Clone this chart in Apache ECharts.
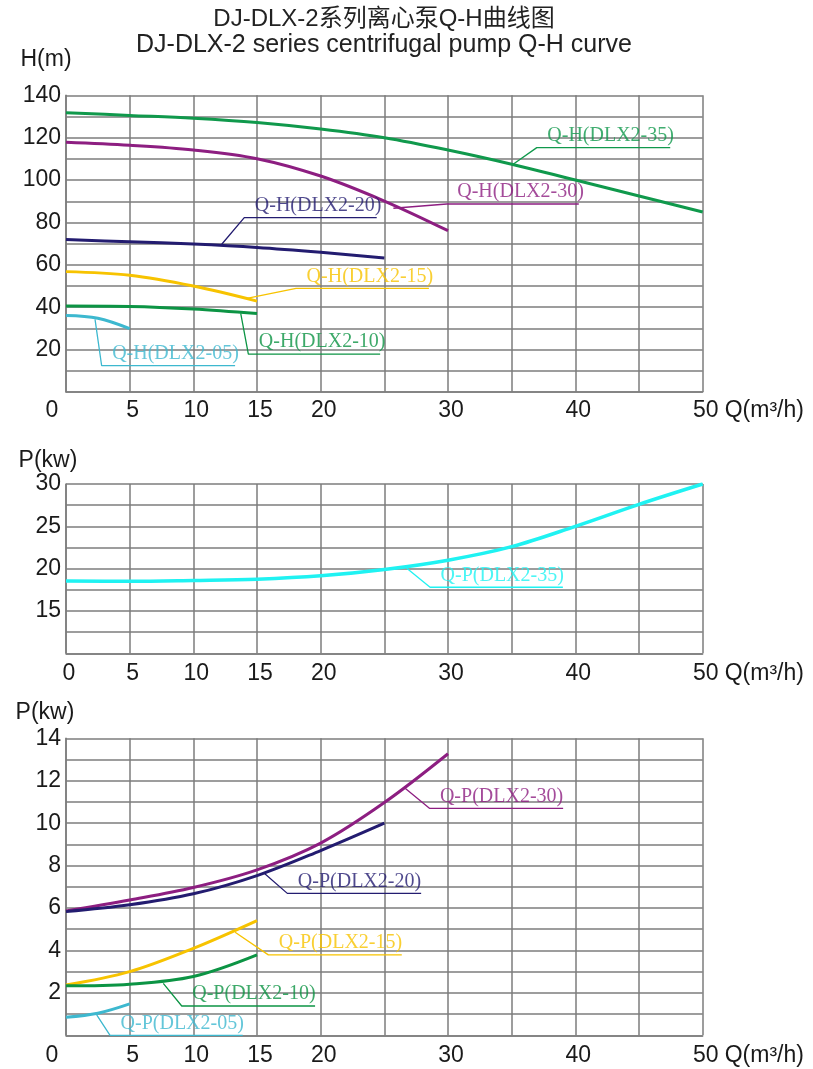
<!DOCTYPE html>
<html><head><meta charset="utf-8">
<script src="https://cdn.jsdelivr.net/npm/echarts@6/dist/echarts.min.js"></script>
<style>html,body{margin:0;padding:0;background:#fff}#c{width:813px;height:1069px}</style>
</head><body><div id="c"></div>
<script>
// ---- text ----
const titleCn = 'DJ-DLX-2系列离心泵Q-H曲线图';
const titleEn = 'DJ-DLX-2 series centrifugal pump Q-H curve';
const xName = 'Q(m³/h)';
// ---- tick labels ----
const xTickLabels = [0, 5, 10, 15, 20, 30, 40, 50];
const hTickLabels = [20, 40, 60, 80, 100, 120, 140];
const p35TickLabels = [15, 20, 25, 30];
const pTickLabels = [2, 4, 6, 8, 10, 12, 14];
// ---- Q-H curves (top) ----
const qh35Q = [0, 5, 10, 15, 20, 25, 30, 35, 40, 45, 50];
const qh35H = [131.8, 130.5, 129.2, 127.2, 124.1, 120.0, 114.2, 107.5, 100.0, 92.5, 84.9];
const qh30Q = [0, 5, 10, 15, 20, 25, 30];
const qh30H = [117.8, 116.4, 114.2, 110.1, 101.9, 90.1, 76.1];
const qh20Q = [0, 5, 10, 15, 20, 25];
const qh20H = [71.9, 70.9, 69.8, 68.2, 65.9, 63.2];
const qh15Q = [0, 5, 10, 15];
const qh15H = [56.8, 55.1, 50.0, 42.9];
const qh10Q = [0, 5, 10, 15];
const qh10H = [40.6, 40.4, 39.2, 37.0];
const qh05Q = [0, 2.5, 5];
const qh05H = [36.1, 34.8, 29.9];
// ---- Q-P curve DLX2-35 (middle) ----
const qp35Q = [0, 5, 10, 15, 20, 25, 30, 35, 40, 45, 50];
const qp35P = [18.55, 18.5, 18.6, 18.75, 19.15, 19.9, 21.0, 22.6, 25.0, 27.6, 30.0];
// ---- Q-P curves (bottom) ----
const qp30Q = [0, 5, 10, 15, 20, 25, 30];
const qp30P = [5.86, 6.38, 6.97, 7.8, 9.06, 10.97, 13.27];
const qp20Q = [0, 5, 10, 15, 20, 25];
const qp20P = [5.83, 6.15, 6.67, 7.53, 8.71, 10.0];
const qp15Q = [0, 5, 10, 15];
const qp15P = [2.37, 3.0, 4.1, 5.41];
const qp10Q = [0, 5, 10, 15];
const qp10P = [2.33, 2.41, 2.77, 3.79];
const qp05Q = [0, 2.5, 5];
const qp05P = [0.85, 1.04, 1.48];
// ---- callout anchors in data units: [curveQ, curveV, startQ, startV, endQ, endV] ----
const noteH35 = [35.14, 107.6, 36.97, 115.3, 47.45, 115.3];
const noteH30 = [25.71, 86.7, 29.9, 88.7, 40.27, 88.7];
const noteH20 = [12.23, 69.7, 14.0, 82.3, 24.4, 82.3];
const noteH15 = [14.2, 44.2, 18.07, 48.9, 28.5, 48.9];
const noteH10 = [13.72, 37.1, 14.32, 17.9, 24.67, 17.9];
const noteH05 = [2.28, 34.3, 2.8, 12.4, 13.28, 12.4];
const noteP35 = [26.76, 20.05, 28.59, 17.8, 39.02, 17.8];
const noteP30 = [26.63, 11.65, 28.54, 10.7, 39.04, 10.7];
const noteP20 = [15.5, 7.67, 17.38, 6.69, 27.89, 6.69];
const noteP15 = [13.28, 4.86, 15.89, 3.79, 26.37, 3.79];
const noteP10 = [7.64, 2.45, 9.09, 1.38, 19.56, 1.38];
const noteP05 = [2.41, 0.96, 3.46, 0.0, 13.88, 0.0];

const C = {
  g35: '#10994c', p30: '#8d1e81', n20: '#231c70', y15: '#f7c300',
  g10: '#0c9444', b05: '#3db8cf', cy: '#1ff2f2'
};
const F = '"Liberation Sans", Arial, sans-serif';
const FS = '"Liberation Serif", "Times New Roman", serif';
const gridColor = '#7d7d7d';
const txt = '#1a1a1a';

const zip = (a, b) => a.map((v, i) => [v, b[i]]);

function xAxis(i, shiftZero, margin) {
  return {
    gridIndex: i, type: 'value', min: 0, max: 50, interval: 5,
    axisLine: { show: true, lineStyle: { color: gridColor, width: 1.5 } },
    axisTick: { show: false },
    splitLine: { show: true, lineStyle: { color: gridColor, width: 1.5 } },
    axisLabel: {
      margin: margin,
      formatter: v => {
        if (!xTickLabels.includes(v)) return '';
        if (v === 0 && shiftZero) return '{z|0}';
        return '{n|' + v + '}';
      },
      rich: {
        z: { fontFamily: F, fontSize: 23, color: txt, padding: [0, 28, 0, 0] },
        n: { fontFamily: F, fontSize: 23, color: txt, padding: [0, 0, 0, 6] }
      }
    },
    name: xName, nameLocation: 'end', nameGap: 22,
    nameTextStyle: { fontFamily: F, fontSize: 23, color: txt, align: 'left', verticalAlign: 'top', padding: [margin, 0, 0, 0] }
  };
}
function yAxis(i, min, max, interval, labels, name, nameGap, shift) {
  return {
    gridIndex: i, type: 'value', min: min, max: max, interval: interval,
    axisLine: { show: true, lineStyle: { color: gridColor, width: 1.5 } },
    axisTick: { show: false },
    splitLine: { show: true, lineStyle: { color: gridColor, width: 1.5 } },
    axisLabel: {
      margin: 5, fontFamily: F, fontSize: 23, color: txt, padding: [6, 0, 0, 0],
      formatter: v => labels.includes(v) ? String(v) : ''
    },
    name: name, nameLocation: 'end', nameGap: nameGap,
    nameTextStyle: { fontFamily: F, fontSize: 23, color: txt, align: 'center', padding: [0, shift, 0, 0] }
  };
}
function curve(i, q, v, color, w) {
  return {
    type: 'line', xAxisIndex: i, yAxisIndex: i, data: zip(q, v),
    smooth: 0.35, symbol: 'none', z: 4, silent: true,
    lineStyle: { color: color, width: w || 3 }
  };
}
function note(i, n, text, color) {
  return [
    {
      type: 'line', xAxisIndex: i, yAxisIndex: i, symbol: 'none', silent: true, z: 3,
      clip: false,
      data: [[n[0], n[1]], [n[2], n[3]], [n[4], n[5]]],
      lineStyle: { color: color, width: 1.3 }
    },
    {
      type: 'scatter', xAxisIndex: i, yAxisIndex: i, silent: true, z: 5,
      data: [[n[2], n[3]]], symbolSize: 1, itemStyle: { color: 'rgba(0,0,0,0)' },
      label: {
        show: true, position: 'right', distance: 0, offset: [10, -12],
        formatter: text, color: color, fontFamily: FS, fontSize: 20
      }
    }
  ];
}

const chart = echarts.init(document.getElementById('c'), null, { renderer: 'canvas' });
chart.setOption({
  animation: false,
  backgroundColor: '#fff',
  graphic: [
    { type: 'text', x: 384, y: 19, style: { text: titleCn, font: '24px "Liberation Sans", "Noto Sans CJK SC", sans-serif', fill: '#222', textAlign: 'center', textVerticalAlign: 'middle' } },
    { type: 'text', x: 384, y: 45, style: { text: titleEn, font: '25px "Liberation Sans", sans-serif', fill: '#222', textAlign: 'center', textVerticalAlign: 'middle' } }
  ],
  grid: [
    { left: 66, top: 95.3, width: 636.7, height: 296.7 },
    { left: 66, top: 484, width: 636.7, height: 169.3 },
    { left: 66, top: 738.3, width: 636.7, height: 297 }
  ],
  xAxis: [xAxis(0, true, 7), xAxis(1, false, 9), xAxis(2, true, 9)],
  yAxis: [
    yAxis(0, 0, 140, 10, hTickLabels, 'H(m)', 24, 40),
    yAxis(1, 10, 30, 2.5, p35TickLabels, 'P(kw)', 12, 36),
    yAxis(2, 0, 14, 1, pTickLabels, 'P(kw)', 14, 42)
  ],
  series: [
    curve(0, qh35Q, qh35H, C.g35),
    curve(0, qh30Q, qh30H, C.p30),
    curve(0, qh20Q, qh20H, C.n20),
    curve(0, qh15Q, qh15H, C.y15),
    curve(0, qh10Q, qh10H, C.g10),
    curve(0, qh05Q, qh05H, C.b05),
    ...note(0, noteH35, 'Q-H(DLX2-35)', C.g35),
    ...note(0, noteH30, 'Q-H(DLX2-30)', C.p30),
    ...note(0, noteH20, 'Q-H(DLX2-20)', C.n20),
    ...note(0, noteH15, 'Q-H(DLX2-15)', C.y15),
    ...note(0, noteH10, 'Q-H(DLX2-10)', C.g10),
    ...note(0, noteH05, 'Q-H(DLX2-05)', C.b05),
    curve(1, qp35Q, qp35P, C.cy, 3.5),
    ...note(1, noteP35, 'Q-P(DLX2-35)', C.cy),
    curve(2, qp30Q, qp30P, C.p30),
    curve(2, qp20Q, qp20P, C.n20),
    curve(2, qp15Q, qp15P, C.y15),
    curve(2, qp10Q, qp10P, C.g10),
    curve(2, qp05Q, qp05P, C.b05),
    ...note(2, noteP30, 'Q-P(DLX2-30)', C.p30),
    ...note(2, noteP20, 'Q-P(DLX2-20)', C.n20),
    ...note(2, noteP15, 'Q-P(DLX2-15)', C.y15),
    ...note(2, noteP10, 'Q-P(DLX2-10)', C.g10),
    ...note(2, noteP05, 'Q-P(DLX2-05)', C.b05)
  ]
});
</script>
</body></html>
